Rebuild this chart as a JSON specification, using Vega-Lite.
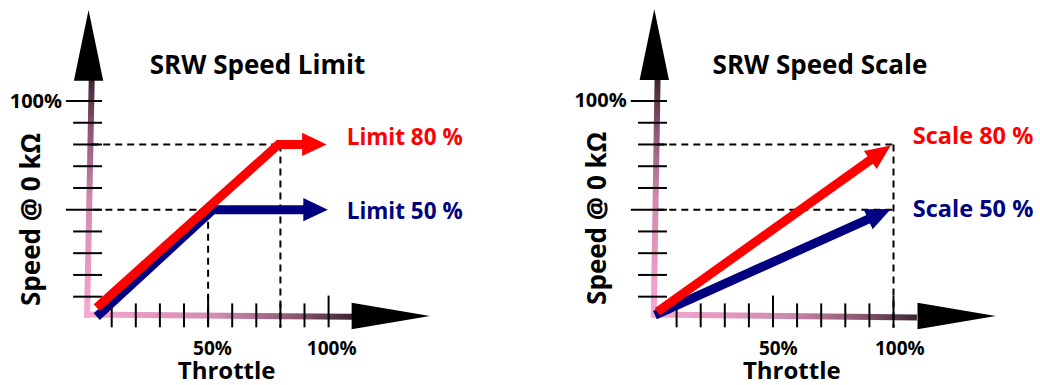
{
  "$schema": "https://vega.github.io/schema/vega-lite/v6.json",
  "padding": 0,
  "spacing": 0,
  "background": "white",
  "config": {"view": {"stroke": null}},
  "resolve": {"scale": {"x": "independent", "y": "independent"}},
  "datasets": {
    "axisY": [
      {"panel": "limit", "i": 0, "x": -0.25, "y": 0.2},
      {"panel": "limit", "i": 1, "x": 1.7, "y": 109.7},
      {"panel": "scale", "i": 0, "x": 0.5, "y": 0.2},
      {"panel": "scale", "i": 1, "x": 2.1, "y": 109.7}
    ],
    "axisX": [
      {"panel": "limit", "i": 0, "x": -1.5, "y": 1.8},
      {"panel": "limit", "i": 1, "x": 109.7, "y": 0.8},
      {"panel": "scale", "i": 0, "x": -0.6, "y": 1.8},
      {"panel": "scale", "i": 1, "x": 109.7, "y": 0.4}
    ],
    "axisHeads": [
      {"panel": "limit", "dir": "up", "x": 0.4, "y": 125.6},
      {"panel": "limit", "dir": "right", "x": 125.8, "y": 1.1},
      {"panel": "scale", "dir": "up", "x": 0.75, "y": 125.9},
      {"panel": "scale", "dir": "right", "x": 126.2, "y": 1.1}
    ],
    "ticks": [
      {"x": -6, "x2": 6, "y": 10, "y2": 10},
      {"x": -6, "x2": 6, "y": 20, "y2": 20},
      {"x": -6, "x2": 6, "y": 30, "y2": 30},
      {"x": -6, "x2": 6, "y": 40, "y2": 40},
      {"x": -9, "x2": 6, "y": 50, "y2": 50},
      {"x": -6, "x2": 6, "y": 60, "y2": 60},
      {"x": -6, "x2": 6, "y": 70, "y2": 70},
      {"x": -6, "x2": 6, "y": 80, "y2": 80},
      {"x": -6, "x2": 6, "y": 90, "y2": 90},
      {"x": -9, "x2": 6, "y": 100, "y2": 100},
      {"x": 10, "x2": 10, "y": -4.1, "y2": 6.9},
      {"x": 20, "x2": 20, "y": -4.1, "y2": 6.9},
      {"x": 30, "x2": 30, "y": -4.1, "y2": 6.9},
      {"x": 40, "x2": 40, "y": -4.1, "y2": 6.9},
      {"x": 50, "x2": 50, "y": -4.1, "y2": 10.5},
      {"x": 60, "x2": 60, "y": -4.1, "y2": 6.9},
      {"x": 70, "x2": 70, "y": -4.1, "y2": 6.9},
      {"x": 80, "x2": 80, "y": -4.1, "y2": 6.9},
      {"x": 90, "x2": 90, "y": -4.1, "y2": 6.9},
      {"x": 100, "x2": 100, "y": -4.1, "y2": 10.5}
    ],
    "dashes": [
      {"panel": "limit", "x": 1.5, "y": 80, "x2": 80, "y2": 80},
      {"panel": "limit", "x": 2.4, "y": 50, "x2": 50, "y2": 50},
      {"panel": "limit", "x": 50, "y": 50, "x2": 50, "y2": -4.3},
      {"panel": "limit", "x": 80, "y": 80, "x2": 80, "y2": -4.3},
      {"panel": "scale", "x": 2, "y": 80, "x2": 100, "y2": 80},
      {"panel": "scale", "x": 2, "y": 50, "x2": 100, "y2": 50},
      {"panel": "scale", "x": 100, "y": 80, "x2": 100, "y2": -4.3}
    ],
    "curves": [
      {"panel": "limit", "series": "50", "i": 0, "x": 3.8, "y": 0.8},
      {"panel": "limit", "series": "50", "i": 1, "x": 52, "y": 50},
      {"panel": "limit", "series": "50", "i": 2, "x": 90, "y": 50},
      {"panel": "limit", "series": "80", "i": 0, "x": 3.8, "y": 5},
      {"panel": "limit", "series": "80", "i": 1, "x": 79.2, "y": 80},
      {"panel": "limit", "series": "80", "i": 2, "x": 90, "y": 80},
      {"panel": "scale", "series": "50", "i": 0, "x": 1, "y": 1.5},
      {"panel": "scale", "series": "50", "i": 1, "x": 94.2, "y": 48.0},
      {"panel": "scale", "series": "80", "i": 0, "x": 2, "y": 3},
      {"panel": "scale", "series": "80", "i": 1, "x": 94.6, "y": 76.2}
    ],
    "tips": [
      {"panel": "limit", "series": "50", "x": 94.6, "y": 50},
      {"panel": "limit", "series": "80", "x": 94.1, "y": 80},
      {"panel": "scale", "series": "50", "x": 94.2, "y": 48.0},
      {"panel": "scale", "series": "80", "x": 94.6, "y": 76.2}
    ],
    "labels": [
      {"panel": "limit", "role": "title", "text": "SRW Speed Limit", "x": 70.5, "y": 112.4},
      {"panel": "limit", "role": "ylab", "text": "100%", "x": -10.6, "y": 96.8},
      {"panel": "limit", "role": "ytitle", "text": "Speed @ 0 kΩ", "x": -19.75, "y": 45.5},
      {"panel": "limit", "role": "xlab", "text": "50%", "x": 51.8, "y": -16.9},
      {"panel": "limit", "role": "xlab", "text": "100%", "x": 101.3, "y": -16.9},
      {"panel": "limit", "role": "xtitle", "text": "Throttle", "x": 57.7, "y": -28.1},
      {"panel": "limit", "role": "series", "series": "80", "text": "Limit 80 %", "x": 107.5, "y": 79.8},
      {"panel": "limit", "role": "series", "series": "50", "text": "Limit 50 %", "x": 107.5, "y": 45.6},
      {"panel": "scale", "role": "title", "text": "SRW Speed Scale", "x": 69.5, "y": 112.4},
      {"panel": "scale", "role": "ylab", "text": "100%", "x": -10.7, "y": 97.2},
      {"panel": "scale", "role": "ytitle", "text": "Speed @ 0 kΩ", "x": -19.3, "y": 46},
      {"panel": "scale", "role": "xlab", "text": "50%", "x": 52.2, "y": -16.9},
      {"panel": "scale", "role": "xlab", "text": "100%", "x": 102.6, "y": -16.9},
      {"panel": "scale", "role": "xtitle", "text": "Throttle", "x": 57.8, "y": -28.1},
      {"panel": "scale", "role": "series", "series": "80", "text": "Scale 80 %", "x": 108, "y": 80.2},
      {"panel": "scale", "role": "series", "series": "50", "text": "Scale 50 %", "x": 108, "y": 46.5}
    ]
  },
  "hconcat": [
    {
      "width": 520,
      "height": 385,
      "encoding": {
        "x": {"field": "x", "type": "quantitative", "scale": {"domain": [-36.35, 179.42], "nice": false, "zero": false}, "axis": null},
        "y": {"field": "y", "type": "quantitative", "scale": {"domain": [-30.63, 146.46], "nice": false, "zero": false}, "axis": null}
      },
      "layer": [
        {"data": {"name": "axisY"}, "transform": [{"filter": "datum.panel==='limit'"}],
         "mark": {"type": "line", "strokeWidth": 6, "strokeCap": "butt",
           "stroke": {"gradient": "linear", "x1": 0, "y1": 1, "x2": 0, "y2": 0,
             "stops": [{"offset": 0, "color": "#f8a8d4"}, {"offset": 0.5, "color": "#d08aaf"}, {"offset": 0.8, "color": "#8a5470"}, {"offset": 1, "color": "#3c2432"}]}},
         "encoding": {"order": {"field": "i", "type": "quantitative"}}},
        {"data": {"name": "axisX"}, "transform": [{"filter": "datum.panel==='limit'"}],
         "mark": {"type": "line", "strokeWidth": 6, "strokeCap": "butt",
           "stroke": {"gradient": "linear", "x1": 0, "y1": 0, "x2": 1, "y2": 0,
             "stops": [{"offset": 0, "color": "#f8a8d4"}, {"offset": 0.5, "color": "#d08aaf"}, {"offset": 0.8, "color": "#8a5470"}, {"offset": 1, "color": "#3c2432"}]}},
         "encoding": {"order": {"field": "i", "type": "quantitative"}}},
        {"data": {"name": "ticks"},
         "mark": {"type": "rule", "color": "#000000", "strokeWidth": 2},
         "encoding": {"x2": {"field": "x2"}, "y2": {"field": "y2"}}},
        {"data": {"name": "dashes"}, "transform": [{"filter": "datum.panel==='limit'"}],
         "mark": {"type": "rule", "color": "#000000", "strokeWidth": 2, "strokeDash": [7, 5]},
         "encoding": {"x2": {"field": "x2"}, "y2": {"field": "y2"}}},
        {"data": {"name": "curves"}, "transform": [{"filter": "datum.panel==='limit'"}],
         "mark": {"type": "line", "strokeWidth": 9, "strokeCap": "butt", "strokeJoin": "miter"},
         "encoding": {"color": {"field": "series", "type": "nominal", "scale": {"domain": ["80", "50"], "range": ["#ff0000", "#000080"]}, "legend": null},
           "order": {"field": "i", "type": "quantitative"}}},
        {"data": {"name": "tips"}, "transform": [{"filter": "datum.panel==='limit'"}],
         "mark": {"type": "point", "shape": "M-1,-0.95L1,0L-1,0.95Z", "size": 600, "filled": true, "opacity": 1, "strokeWidth": 0},
         "encoding": {"color": {"field": "series", "type": "nominal", "scale": {"domain": ["80", "50"], "range": ["#ff0000", "#000080"]}, "legend": null}}},
        {"data": {"name": "axisHeads"}, "transform": [{"filter": "datum.panel==='limit' && datum.dir==='up'"}],
         "mark": {"type": "point", "shape": "M-0.415,1L0,-1L0.415,1Z", "size": 5000, "filled": true, "color": "#000000", "opacity": 1, "strokeWidth": 0},
         "encoding": {}},
        {"data": {"name": "axisHeads"}, "transform": [{"filter": "datum.panel==='limit' && datum.dir==='right'"}],
         "mark": {"type": "point", "shape": "M-1,-0.34L1,0L-1,0.34Z", "size": 6131, "filled": true, "color": "#000000", "opacity": 1, "strokeWidth": 0},
         "encoding": {}},
        {"data": {"name": "labels"}, "transform": [{"filter": "datum.panel==='limit' && datum.role==='title'"}],
         "mark": {"type": "text", "font": "Open Sans", "fontWeight": "bold", "fontSize": 26, "align": "center", "baseline": "alphabetic", "color": "#000000"},
         "encoding": {"text": {"field": "text"}}},
        {"data": {"name": "labels"}, "transform": [{"filter": "datum.panel==='limit' && datum.role==='ytitle'"}],
         "mark": {"type": "text", "font": "Open Sans", "fontWeight": "bold", "fontSize": 26, "align": "center", "baseline": "alphabetic", "angle": 270, "color": "#000000"},
         "encoding": {"text": {"field": "text"}}},
        {"data": {"name": "labels"}, "transform": [{"filter": "datum.panel==='limit' && datum.role==='xtitle'"}],
         "mark": {"type": "text", "font": "Open Sans", "fontWeight": "bold", "fontSize": 24, "align": "center", "baseline": "alphabetic", "color": "#000000"},
         "encoding": {"text": {"field": "text"}}},
        {"data": {"name": "labels"}, "transform": [{"filter": "datum.panel==='limit' && datum.role==='xlab'"}],
         "mark": {"type": "text", "font": "Open Sans", "fontWeight": "bold", "fontSize": 19, "align": "center", "baseline": "alphabetic", "color": "#000000"},
         "encoding": {"text": {"field": "text"}}},
        {"data": {"name": "labels"}, "transform": [{"filter": "datum.panel==='limit' && datum.role==='ylab'"}],
         "mark": {"type": "text", "font": "Open Sans", "fontWeight": "bold", "fontSize": 20, "align": "right", "baseline": "alphabetic", "color": "#000000"},
         "encoding": {"text": {"field": "text"}}},
        {"data": {"name": "labels"}, "transform": [{"filter": "datum.panel==='limit' && datum.role==='series'"}],
         "mark": {"type": "text", "font": "Open Sans", "fontWeight": "bold", "fontSize": 22.5, "align": "left", "baseline": "alphabetic"},
         "encoding": {"text": {"field": "text"},
           "color": {"field": "series", "type": "nominal", "scale": {"domain": ["80", "50"], "range": ["#ff0000", "#000080"]}, "legend": null}}}
      ]
    },
    {
      "width": 520,
      "height": 385,
      "encoding": {
        "x": {"field": "x", "type": "quantitative", "scale": {"domain": [-54.98, 160.79], "nice": false, "zero": false}, "axis": null},
        "y": {"field": "y", "type": "quantitative", "scale": {"domain": [-30.63, 146.46], "nice": false, "zero": false}, "axis": null}
      },
      "layer": [
        {"data": {"name": "axisY"}, "transform": [{"filter": "datum.panel==='scale'"}],
         "mark": {"type": "line", "strokeWidth": 6, "strokeCap": "butt",
           "stroke": {"gradient": "linear", "x1": 0, "y1": 1, "x2": 0, "y2": 0,
             "stops": [{"offset": 0, "color": "#f8a8d4"}, {"offset": 0.5, "color": "#d08aaf"}, {"offset": 0.8, "color": "#8a5470"}, {"offset": 1, "color": "#3c2432"}]}},
         "encoding": {"order": {"field": "i", "type": "quantitative"}}},
        {"data": {"name": "axisX"}, "transform": [{"filter": "datum.panel==='scale'"}],
         "mark": {"type": "line", "strokeWidth": 6, "strokeCap": "butt",
           "stroke": {"gradient": "linear", "x1": 0, "y1": 0, "x2": 1, "y2": 0,
             "stops": [{"offset": 0, "color": "#f8a8d4"}, {"offset": 0.5, "color": "#d08aaf"}, {"offset": 0.8, "color": "#8a5470"}, {"offset": 1, "color": "#3c2432"}]}},
         "encoding": {"order": {"field": "i", "type": "quantitative"}}},
        {"data": {"name": "ticks"},
         "mark": {"type": "rule", "color": "#000000", "strokeWidth": 2},
         "encoding": {"x2": {"field": "x2"}, "y2": {"field": "y2"}}},
        {"data": {"name": "dashes"}, "transform": [{"filter": "datum.panel==='scale'"}],
         "mark": {"type": "rule", "color": "#000000", "strokeWidth": 2, "strokeDash": [7, 5]},
         "encoding": {"x2": {"field": "x2"}, "y2": {"field": "y2"}}},
        {"data": {"name": "curves"}, "transform": [{"filter": "datum.panel==='scale'"}],
         "mark": {"type": "line", "strokeWidth": 9, "strokeCap": "butt", "strokeJoin": "miter"},
         "encoding": {"color": {"field": "series", "type": "nominal", "scale": {"domain": ["80", "50"], "range": ["#ff0000", "#000080"]}, "legend": null},
           "order": {"field": "i", "type": "quantitative"}}},
        {"data": {"name": "tips"}, "transform": [{"filter": "datum.panel==='scale' && datum.series==='50'"}],
         "mark": {"type": "point", "shape": "M-1,-0.88L1,0L-1,0.88Z", "size": 625, "angle": 335.8, "filled": true, "opacity": 1, "strokeWidth": 0},
         "encoding": {"color": {"field": "series", "type": "nominal", "scale": {"domain": ["80", "50"], "range": ["#ff0000", "#000080"]}, "legend": null}}},
        {"data": {"name": "tips"}, "transform": [{"filter": "datum.panel==='scale' && datum.series==='80'"}],
         "mark": {"type": "point", "shape": "M-1,-0.88L1,0L-1,0.88Z", "size": 625, "angle": 324.5, "filled": true, "opacity": 1, "strokeWidth": 0},
         "encoding": {"color": {"field": "series", "type": "nominal", "scale": {"domain": ["80", "50"], "range": ["#ff0000", "#000080"]}, "legend": null}}},
        {"data": {"name": "axisHeads"}, "transform": [{"filter": "datum.panel==='scale' && datum.dir==='up'"}],
         "mark": {"type": "point", "shape": "M-0.415,1L0,-1L0.415,1Z", "size": 5000, "filled": true, "color": "#000000", "opacity": 1, "strokeWidth": 0},
         "encoding": {}},
        {"data": {"name": "axisHeads"}, "transform": [{"filter": "datum.panel==='scale' && datum.dir==='right'"}],
         "mark": {"type": "point", "shape": "M-1,-0.34L1,0L-1,0.34Z", "size": 6131, "filled": true, "color": "#000000", "opacity": 1, "strokeWidth": 0},
         "encoding": {}},
        {"data": {"name": "labels"}, "transform": [{"filter": "datum.panel==='scale' && datum.role==='title'"}],
         "mark": {"type": "text", "font": "Open Sans", "fontWeight": "bold", "fontSize": 26, "align": "center", "baseline": "alphabetic", "color": "#000000"},
         "encoding": {"text": {"field": "text"}}},
        {"data": {"name": "labels"}, "transform": [{"filter": "datum.panel==='scale' && datum.role==='ytitle'"}],
         "mark": {"type": "text", "font": "Open Sans", "fontWeight": "bold", "fontSize": 26, "align": "center", "baseline": "alphabetic", "angle": 270, "color": "#000000"},
         "encoding": {"text": {"field": "text"}}},
        {"data": {"name": "labels"}, "transform": [{"filter": "datum.panel==='scale' && datum.role==='xtitle'"}],
         "mark": {"type": "text", "font": "Open Sans", "fontWeight": "bold", "fontSize": 24, "align": "center", "baseline": "alphabetic", "color": "#000000"},
         "encoding": {"text": {"field": "text"}}},
        {"data": {"name": "labels"}, "transform": [{"filter": "datum.panel==='scale' && datum.role==='xlab'"}],
         "mark": {"type": "text", "font": "Open Sans", "fontWeight": "bold", "fontSize": 19, "align": "center", "baseline": "alphabetic", "color": "#000000"},
         "encoding": {"text": {"field": "text"}}},
        {"data": {"name": "labels"}, "transform": [{"filter": "datum.panel==='scale' && datum.role==='ylab'"}],
         "mark": {"type": "text", "font": "Open Sans", "fontWeight": "bold", "fontSize": 20, "align": "right", "baseline": "alphabetic", "color": "#000000"},
         "encoding": {"text": {"field": "text"}}},
        {"data": {"name": "labels"}, "transform": [{"filter": "datum.panel==='scale' && datum.role==='series'"}],
         "mark": {"type": "text", "font": "Open Sans", "fontWeight": "bold", "fontSize": 23.5, "align": "left", "baseline": "alphabetic"},
         "encoding": {"text": {"field": "text"},
           "color": {"field": "series", "type": "nominal", "scale": {"domain": ["80", "50"], "range": ["#ff0000", "#000080"]}, "legend": null}}}
      ]
    }
  ]
}
